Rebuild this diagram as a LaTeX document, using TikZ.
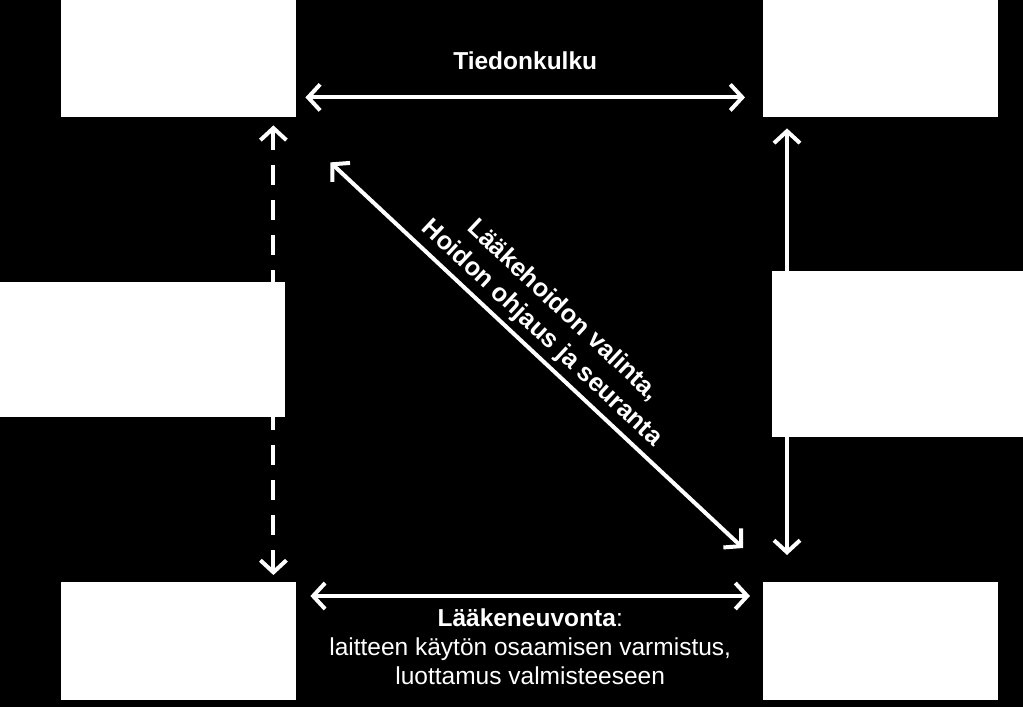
\documentclass[tikz,border=0pt]{standalone}
\usepackage{fontspec}
\setmainfont{Liberation Sans}
\usetikzlibrary{arrows.meta,positioning}

\begin{document}
\begin{tikzpicture}[x=1pt,y=-1pt,
  box/.style={fill=white,draw=none,inner sep=0pt,anchor=north west},
  link/.style={white,line width=4pt,{Straight Barb[length=12pt,width=26pt,line width=4pt]}-{Straight Barb[length=12pt,width=26pt,line width=4pt]}},
  dlink/.style={link,dash pattern=on 20pt off 15pt},
  lbl/.style={text=white,font=\fontsize{24.5}{29}\selectfont,align=center}]
\fill [black] (0,0) rectangle (1023,707);
\useasboundingbox (0,0) rectangle (1023,707);
% corner boxes
\node [box,minimum width=235pt,minimum height=117pt] (tl) at (61,0) {};
\node [box,minimum width=235pt,minimum height=117pt] (tr) at (763,0) {};
\node [box,minimum width=235pt,minimum height=118pt] (bl) at (61,582) {};
\node [box,minimum width=235pt,minimum height=118pt] (br) at (763,582) {};
% arrows
\draw [link] ([xshift=9pt,yshift=20pt]tl.south east) -- ([xshift=-18pt,yshift=20pt]tr.south west)
  node [lbl,midway,above=22pt] {\bfseries Tiedonkulku};
\draw [link] ([xshift=14pt,yshift=-14pt]bl.north east) -- ([xshift=-13pt,yshift=-14pt]br.north west)
  node [lbl,midway,below=7pt] {\textbf{Lääkeneuvonta}:\\laitteen käytön osaamisen varmistus,\\luottamus valmisteeseen};
\draw [dlink] ([xshift=-23pt,yshift=-8pt]tl.south east) -- ([xshift=-23pt,yshift=7pt]bl.north east);
\draw [link] ([xshift=24pt,yshift=-11pt]tr.south west) -- ([xshift=24pt,yshift=27pt]br.north west);
\draw [link] ([xshift=34pt,yshift=-45pt]tl.south east) -- ([xshift=-20pt,yshift=34pt]br.north west)
  node [lbl,pos=0.48,sloped,above=2pt,font=\fontsize{25.5}{31}\selectfont\bfseries] {Lääkehoidon valinta,\\Hoidon ohjaus ja seuranta};
% middle boxes
\node [box,minimum width=285pt,minimum height=135pt] (ml) at (0,282) {};
\node [box,minimum width=251pt,minimum height=166pt] (mr) at (772,271) {};
\end{tikzpicture}
\end{document}
